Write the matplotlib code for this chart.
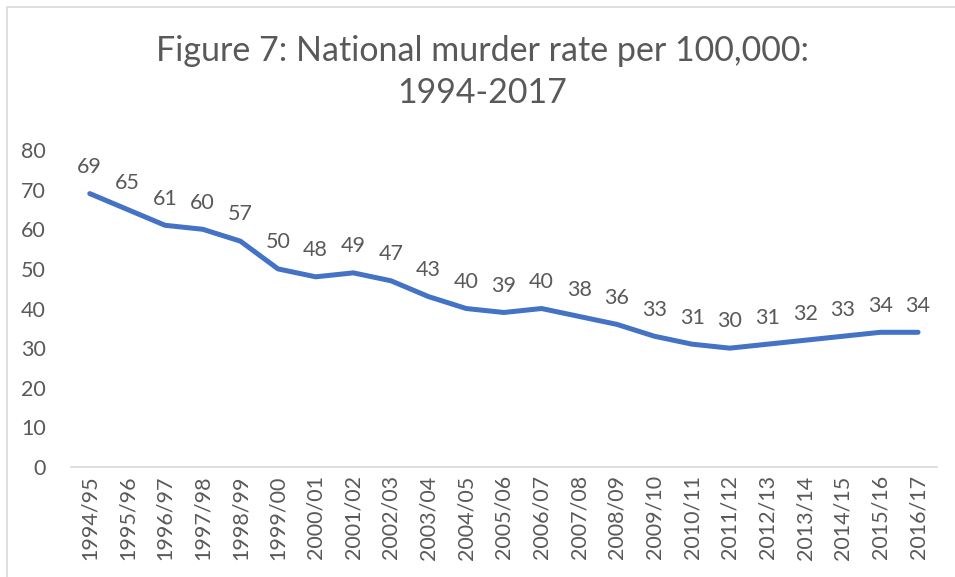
import matplotlib.pyplot as plt
from matplotlib.patches import Rectangle

years = ['1994/95', '1995/96', '1996/97', '1997/98', '1998/99', '1999/00',
         '2000/01', '2001/02', '2002/03', '2003/04', '2004/05', '2005/06',
         '2006/07', '2007/08', '2008/09', '2009/10', '2010/11', '2011/12',
         '2012/13', '2013/14', '2014/15', '2015/16', '2016/17']
rates = [69, 65, 61, 60, 57, 50, 48, 49, 47, 43, 40, 39, 40, 38, 36,
         33, 31, 30, 31, 32, 33, 34, 34]
y_ticks = [0, 10, 20, 30, 40, 50, 60, 70, 80]

plt.rcParams['font.family'] = ['Lato', 'DejaVu Sans']
grey = '#595959'

fig = plt.figure(figsize=(9.55, 5.77), dpi=100)
ax = fig.add_axes([0.0743, 0.1906, 0.9067, 0.5494])

# chart border (only top and left visible in the crop)
fig.patches.append(Rectangle((7 / 955, -0.1), 1.2, 1.1 - 7 / 577,
                             transform=fig.transFigure, fill=False,
                             edgecolor='#D9D9D9', linewidth=1.2))

x = list(range(len(years)))
ax.plot(x, rates, color='#4472C4', linewidth=3.6, solid_capstyle='round')

for xi, v in zip(x, rates):
    ax.annotate(str(v), (xi, v), xytext=(0, 12), textcoords='offset points',
                ha='center', va='bottom', fontsize=15.5, color=grey)

ax.set_xlim(-0.5, len(years) - 0.5)
ax.set_ylim(0, 80)
ax.set_yticks(y_ticks)
ax.set_xticks(x)
ax.set_xticklabels(years, rotation=90)
ax.tick_params(axis='both', length=0, labelsize=15.5, labelcolor=grey)
ax.tick_params(axis='y', pad=18)
ax.tick_params(axis='x', pad=6)

for side in ['top', 'right', 'left']:
    ax.spines[side].set_visible(False)
ax.spines['bottom'].set_color('#D9D9D9')
ax.spines['bottom'].set_linewidth(1.2)

fig.text(0.505, 0.875, 'Figure 7: National murder rate per 100,000:\n1994-2017',
         ha='center', va='center', fontsize=24.5, color=grey, linespacing=1.4)

fig.savefig('out.png', dpi=100)
